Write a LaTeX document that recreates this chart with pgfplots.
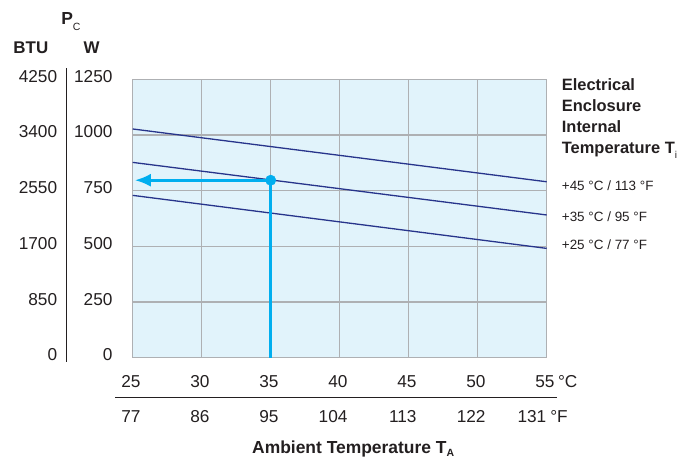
\documentclass[border=0pt]{standalone}
\usepackage{pgfplots}
\pgfplotsset{compat=1.18}
\usepackage{fontspec}
\setmainfont{Liberation Sans}
\usetikzlibrary{arrows.meta}
\definecolor{bgblue}{HTML}{E1F3FB}
\definecolor{gridgray}{HTML}{AEB0B3}
\definecolor{navy}{HTML}{27348B}
\definecolor{cyanb}{HTML}{00AEEF}
\definecolor{txt}{HTML}{231F20}
\newcommand\fs[1]{\fontsize{#1}{#1}\selectfont}
\begin{document}
\begin{tikzpicture}[x=1bp,y=1bp]
\useasboundingbox (0,0) rectangle (694,459);
\begin{axis}[
  at={(132.7bp,101.2bp)}, anchor=south west,
  scale only axis, width=414bp, height=278.5bp,
  xmin=25, xmax=55, ymin=0, ymax=1250,
  xtick={25,30,35,40,45,50,55},
  xticklabels={25,30,35,40,45,50,{55\rlap{\kern3.5bp °C}\hspace{8bp}}},
  ytick={0,250,500,750,1000,1250},
  yticklabels={0,250,500,750,1000,1250},
  major tick length=0pt,
  grid=major,
  grid style={gridgray, line width=1.4bp},
  axis line style={gridgray, line width=1.4bp},
  axis background/.style={fill=bgblue},
  tick label style={font=\fs{17.3}, text=txt},
  xticklabel style={anchor=base east, inner sep=0pt, xshift=8bp, yshift=-29.5bp},
  yticklabel style={anchor=east, inner sep=0pt, xshift=-20bp, yshift=3bp},
  clip=false,
]
\addplot[navy, line width=1.3bp] coordinates {(25,1027) (55,790)};
\addplot[navy, line width=1.3bp] coordinates {(25,877) (55,641)};
\addplot[navy, line width=1.3bp] coordinates {(25,729) (55,491)};
\addplot[cyanb, line width=2.8bp] coordinates {(35,797) (35,0)};
\addplot[cyanb, line width=2.8bp, -{Latex[length=16bp,width=13bp]}] coordinates {(35,797) (25.15,797)};
\addplot[only marks, mark=*, mark size=5.2bp, color=cyanb] coordinates {(35,797)};
\end{axis}
% BTU scale
\foreach \v/\y in {0/104.2, 850/159.9, 1700/215.6, 2550/271.3, 3400/327.0, 4250/382.7}
  \node[anchor=east, inner sep=0pt, font=\fs{17.3}, text=txt] at (57.3,\y) {\v};
\draw[txt, line width=1.1bp] (66.7,97) -- (66.7,391);
\node[anchor=base west, inner sep=0pt, font=\bfseries\fs{17}, text=txt] at (13.3,405.7) {BTU};
\node[anchor=base, inner sep=0pt, font=\bfseries\fs{17}, text=txt] at (91.5,405.7) {W};
\node[anchor=base west, inner sep=0pt, font=\bfseries\fs{17.5}, text=txt] at (61.2,434) {P};
\node[anchor=base west, inner sep=0pt, font=\fs{10.5}, text=txt] at (72.7,428.3) {C};
% Fahrenheit row
\draw[txt, line width=1.2bp] (115,61.3) -- (557,61.3);
\foreach \f/\x in {77/140.7, 86/209.7, 95/278.7, 104/347.7, 113/416.7, 122/485.7}
  \node[anchor=base east, inner sep=0pt, font=\fs{17.3}, text=txt] at (\x,36.3) {\f};
\node[anchor=base east, inner sep=0pt, font=\fs{17.3}, text=txt] at (546.5,36.3) {131\rlap{\kern4bp °F}};
% x title
\node[anchor=base west, inner sep=0pt, font=\bfseries\fs{17.5}, text=txt] at (252,5.5) {Ambient Temperature T\raisebox{-3.5bp}{\fs{10.5}A}};
% right title
\node[anchor=base west, inner sep=0pt, font=\bfseries\fs{16.5}, text=txt] at (561.7,368) {Electrical};
\node[anchor=base west, inner sep=0pt, font=\bfseries\fs{16.5}, text=txt] at (561.7,347.3) {Enclosure};
\node[anchor=base west, inner sep=0pt, font=\bfseries\fs{16.5}, text=txt] at (561.7,326) {Internal};
\node[anchor=base west, inner sep=0pt, font=\bfseries\fs{16.5}, text=txt] at (561.7,305.7) {Temperature T\raisebox{-5.5bp}{\fs{10}\mdseries i}};
\node[anchor=base west, inner sep=0pt, font=\fs{13.5}, text=txt] at (561.7,268.3) {+45 °C / 113 °F};
\node[anchor=base west, inner sep=0pt, font=\fs{13.5}, text=txt] at (561.7,237.3) {+35 °C / 95 °F};
\node[anchor=base west, inner sep=0pt, font=\fs{13.5}, text=txt] at (561.7,209.7) {+25 °C / 77 °F};
\end{tikzpicture}
\end{document}
